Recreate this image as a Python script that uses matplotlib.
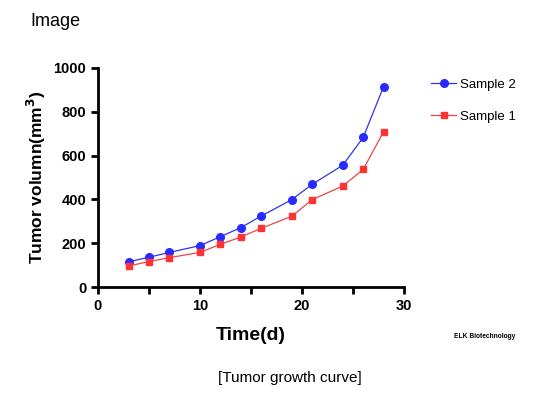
import matplotlib
matplotlib.use("Agg")
import matplotlib.pyplot as plt

plt.rcParams['font.family'] = ['Liberation Sans', 'DejaVu Sans']

# days measured
days = [3, 5, 7, 10, 12, 14, 16, 19, 21, 24, 26, 28]
# tumor volume (mm3)
sample2 = [115, 136, 158, 189, 230, 271, 324, 399, 469, 556, 683, 915]
sample1 = [96, 116, 134, 158, 195, 228, 268, 323, 399, 461, 537, 709]

fig = plt.figure(figsize=(5.58, 3.99), dpi=100)
ax = fig.add_axes([0.1756, 0.2807, 0.5484, 0.5489])

ax.plot(days, sample2, color='#3333ee', lw=0.9, marker='o', ms=5.5,
        mfc='#2a2aff', mec='#2a2aff', label='Sample 2')
ax.plot(days, sample1, color='#ee4444', lw=0.9, marker='s', ms=5,
        mfc='#ff3333', mec='#ff3333', label='Sample 1')

ax.set_xlim(0, 30)
ax.set_ylim(0, 1000)
ax.set_xticks([0, 10, 20, 30])
ax.set_xticks([5, 15, 25], minor=True)
ax.set_yticks([0, 200, 400, 600, 800, 1000])
for s in ['top', 'right']:
    ax.spines[s].set_visible(False)
for s in ['left', 'bottom']:
    ax.spines[s].set_linewidth(2)
ax.tick_params(which='both', width=2, length=5, labelsize=10.5)
for lab in ax.get_xticklabels() + ax.get_yticklabels():
    lab.set_fontweight('bold')

ax.set_xlabel('Time(d)', fontsize=14, fontweight='bold', labelpad=10)
ax.set_ylabel('Tumor volumn(mm$^\\mathbf{3}$)', fontsize=12.5, fontweight='bold', labelpad=4)

ax.legend(loc='upper left', bbox_to_anchor=(1.05, 1.005), frameon=False,
          fontsize=9.5, handlelength=1.9, handletextpad=0.3, labelspacing=1.5)

fig.text(0.054, 0.945, 'Image', fontsize=13, va='center')
fig.text(0.52, 0.052, '[Tumor growth curve]', fontsize=11, ha='center', va='center')
fig.text(0.868, 0.157, 'ELK Biotechnology', fontsize=4.8, fontweight='bold', ha='center', va='center')

fig.savefig('out.png', dpi=100)
